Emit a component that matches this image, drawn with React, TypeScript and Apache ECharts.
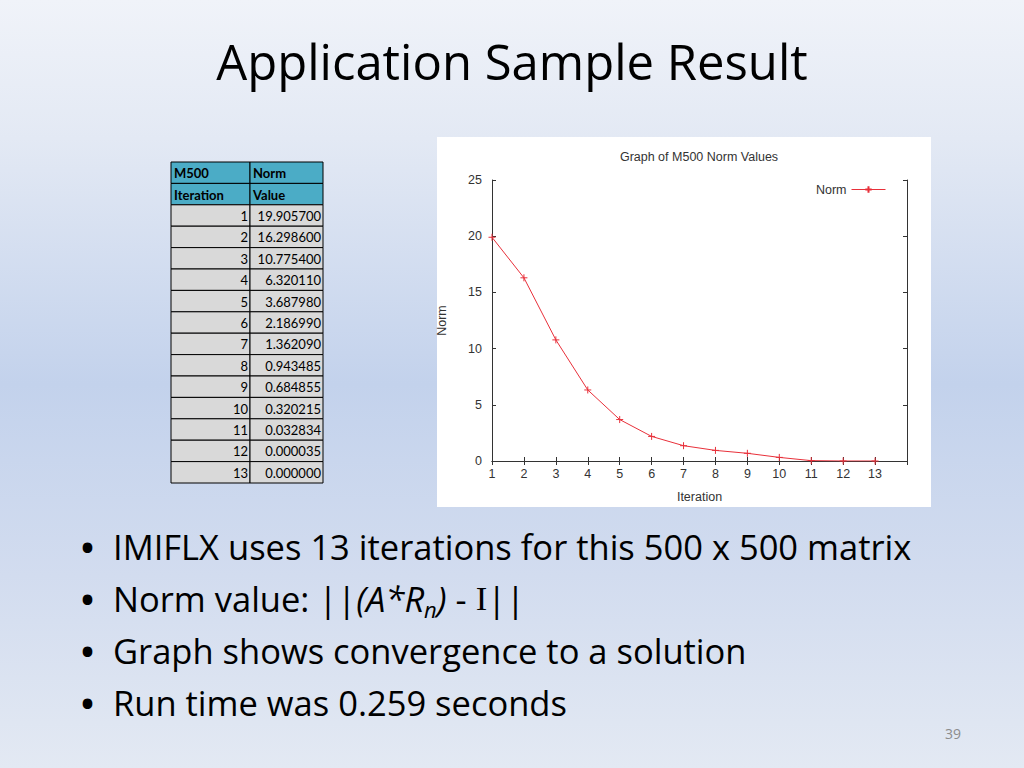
import React, { useEffect, useRef } from "react";
import * as echarts from "echarts";

const iterations = [1, 2, 3, 4, 5, 6, 7, 8, 9, 10, 11, 12, 13];
const normValues = [19.9057, 16.2986, 10.7754, 6.32011, 3.68798, 2.18699, 1.36209, 0.943485, 0.684855, 0.320215, 0.032834, 0.000035, 0.0];
const tableHeader = [["M500", "Norm"], ["Iteration", "Value"]];
const slideTitle = "Application Sample Result";
const chartTitle = "Graph of M500 Norm Values";
const seriesName = "Norm";
const xName = "Iteration";
const yName = "Norm";
const pageNumber = "39";

const SLIDE_FONT = "'Open Sans', 'Noto Sans', sans-serif";
const TABLE_FONT = "Lato, 'Open Sans', sans-serif";
const CHART_FONT = "'Liberation Sans', Arial, sans-serif";
const CHART_FS = 12.5;

function buildTable(): any[] {
  const els: any[] = [];
  const x0 = 171, x1 = 250, x2 = 323, y0 = 162, rh = 21.4;
  const rows = tableHeader.length + iterations.length;
  for (let r = 0; r < rows; r++) {
    const isHead = r < tableHeader.length;
    const y = y0 + r * rh;
    const fill = isHead ? "#4bacc6" : "#d9d9d9";
    els.push({ type: "rect", shape: { x: x0, y, width: x1 - x0, height: rh }, style: { fill, stroke: "#000", lineWidth: 1 } });
    els.push({ type: "rect", shape: { x: x1, y, width: x2 - x1, height: rh }, style: { fill, stroke: "#000", lineWidth: 1 } });
    const cy = y + rh / 2 + 0.5;
    if (isHead) {
      const h = tableHeader[r];
      els.push({ type: "text", style: { text: h[0], x: x0 + 3, y: cy, font: `bold 13px ${TABLE_FONT}`, fill: "#000", textAlign: "left", textVerticalAlign: "middle" } });
      els.push({ type: "text", style: { text: h[1], x: x1 + 3, y: cy, font: `bold 13px ${TABLE_FONT}`, fill: "#000", textAlign: "left", textVerticalAlign: "middle" } });
    } else {
      const i = r - tableHeader.length;
      els.push({ type: "text", style: { text: String(iterations[i]), x: x1 - 2, y: cy, font: `13px ${TABLE_FONT}`, fill: "#000", textAlign: "right", textVerticalAlign: "middle" } });
      els.push({ type: "text", style: { text: normValues[i].toFixed(6), x: x2 - 2, y: cy, font: `13px ${TABLE_FONT}`, fill: "#000", textAlign: "right", textVerticalAlign: "middle" } });
    }
  }
  return els;
}

function buildBullets(): any[] {
  const els: any[] = [];
  const FS = 34.5;
  const ys = [546, 598, 650, 702];
  const base = { fontSize: FS, fontFamily: SLIDE_FONT, color: "#000", lineHeight: 44, verticalAlign: "middle" };
  const texts: any[] = [
    { text: "IMIFLX uses 13 iterations for this 500 x 500 matrix" },
    {
      text: "{n|Norm value: ||}{i|(A*R}{s|n}{i|)}{n| - }{t|I}{n|||}",
      rich: {
        n: { ...base },
        i: { ...base, fontStyle: "italic" },
        s: { ...base, fontStyle: "italic", fontSize: 22, lineHeight: 44, verticalAlign: "bottom" },
        t: { ...base, fontFamily: "'Liberation Serif', 'DejaVu Serif', serif" },
      },
    },
    { text: "Graph shows convergence to a solution" },
    { text: "Run time was 0.259 seconds" },
  ];
  texts.forEach((t, k) => {
    els.push({ type: "text", style: { text: "\u2022", x: 81, y: ys[k], font: `bold ${FS}px ${SLIDE_FONT}`, fill: "#000", textAlign: "left", textVerticalAlign: "middle" } });
    const style: any = { text: t.text, x: 113, y: ys[k], fill: "#000", textAlign: "left", textVerticalAlign: "middle", fontSize: FS, fontFamily: SLIDE_FONT };
    if (t.rich) style.rich = t.rich;
    els.push({ type: "text", style });
  });
  return els;
}

export default function App() {
  const ref = useRef<HTMLDivElement>(null);
  useEffect(() => {
    if (!ref.current) return;
    const chart = echarts.init(ref.current, null, { renderer: "svg" });
    const plus = "path://M0,5L10,5M5,0L5,10";
    const axisCommon = {
      type: "value",
      axisLine: { show: true, lineStyle: { color: "#333", width: 1 } },
      axisTick: { show: true, inside: true, length: 4, lineStyle: { color: "#333" } },
      splitLine: { show: false },
    };
    const txt = { fontSize: CHART_FS, color: "#333", fontFamily: CHART_FONT };
    chart.setOption({
      animation: false,
      backgroundColor: {
        type: "linear", x: 0, y: 0, x2: 0, y2: 1,
        colorStops: [
          { offset: 0, color: "#f0f3f9" },
          { offset: 0.18, color: "#e3e9f4" },
          { offset: 0.5, color: "#c3d2ec" },
          { offset: 0.75, color: "#d2dcef" },
          { offset: 1, color: "#e3e9f3" },
        ],
      },
      grid: { left: 492, top: 180, width: 415, height: 281, containLabel: false, outerBoundsMode: "none" },
      legend: {
        data: [seriesName],
        right: 133,
        top: 178,
        align: "right",
        itemWidth: 34,
        itemHeight: 8,
        lineStyle: { width: 1 },
        textStyle: txt,
      },
      xAxis: [
        {
          ...axisCommon,
          position: "bottom",
          min: 1, max: 14, interval: 1,
          axisLabel: { show: true, margin: 6, ...txt, formatter: (v: number) => (v <= 13 ? String(v) : "") },
          name: xName, nameLocation: "middle", nameGap: 29,
          nameTextStyle: txt,
        },
        {
          ...axisCommon,
          position: "top",
          min: 1, max: 14, interval: 1,
          axisLabel: { show: false },
        },
      ],
      yAxis: [
        {
          ...axisCommon,
          position: "left",
          min: 0, max: 25, interval: 5,
          axisLabel: { show: true, margin: 10, ...txt },
          name: yName, nameLocation: "middle", nameGap: 44,
          nameTextStyle: txt,
        },
        {
          ...axisCommon,
          position: "right",
          min: 0, max: 25, interval: 5,
          axisLabel: { show: false },
        },
      ],
      series: [
        {
          name: seriesName,
          type: "line",
          xAxisIndex: 0,
          yAxisIndex: 0,
          data: iterations.map((x, i) => [x, normValues[i]]),
          symbol: plus,
          symbolSize: 7,
          showSymbol: true,
          lineStyle: { color: "#e8303a", width: 1 },
          itemStyle: { color: "#e8303a", borderColor: "#e8303a", borderWidth: 1 },
          z: 3,
        },
      ],
      graphic: [
        { type: "rect", z: -10, shape: { x: 437, y: 137, width: 494, height: 370 }, style: { fill: "#ffffff" } },
        { type: "text", style: { text: chartTitle, x: 699, y: 157, font: `${CHART_FS}px ${CHART_FONT}`, fill: "#333", textAlign: "center", textVerticalAlign: "middle" } },
        { type: "text", style: { text: slideTitle, x: 512, y: 61, font: `49px ${SLIDE_FONT}`, fill: "#000", textAlign: "center", textVerticalAlign: "middle" } },
        { type: "text", style: { text: pageNumber, x: 953, y: 733, font: `14px ${SLIDE_FONT}`, fill: "#8c8c8c", textAlign: "center", textVerticalAlign: "middle" } },
        ...buildTable(),
        ...buildBullets(),
      ],
    });
    return () => chart.dispose();
  }, []);
  return <div ref={ref} style={{ position: "absolute", left: 0, top: 0, width: 1024, height: 768 }} />;
}
